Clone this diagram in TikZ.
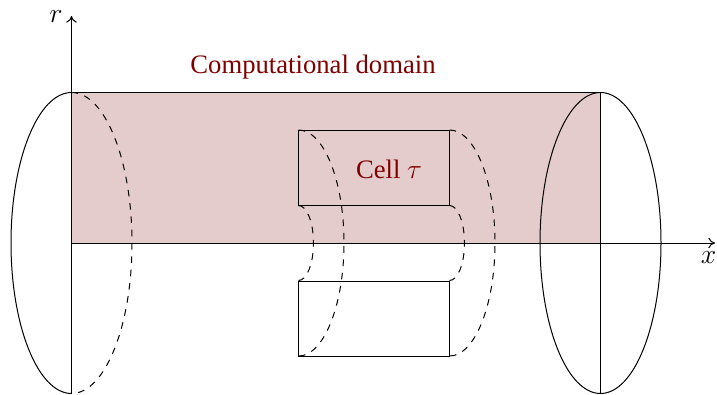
\documentclass[tikz,border=0pt]{standalone}
\usepackage{fontspec}
\usetikzlibrary{arrows.meta}
\setmainfont{Liberation Serif}
\definecolor{domainred}{HTML}{800000}
\tikzset{
  solidline/.style={line width=0.75pt,black},
  dashline/.style={line width=0.75pt,black,dash pattern=on 5pt off 5pt},
  axisline/.style={line width=0.75pt,black,-{Computer Modern Rightarrow[length=5pt,width=8pt]}},
  redlabel/.style={text=domainred,font=\fontsize{20}{24}\selectfont,inner sep=0pt},
  axislabel/.style={text=black,font=\fontsize{20}{24}\selectfont,inner sep=0pt}
}
\begin{document}
\begin{tikzpicture}[x=0.75pt,y=0.75pt]
\useasboundingbox (0,0) rectangle (717,394);
% key points (y measured up from the lower edge)
\coordinate (O) at (71.5,151);
\coordinate (LT) at (71.5,301.5);
\coordinate (LB) at (71.5,0.5);
\coordinate (RT) at (600.5,301.5);
\coordinate (RB) at (600.5,0.5);
\coordinate (RM) at (600.5,151);
\coordinate (XEnd) at (715,151);
\coordinate (REnd) at (71.5,378);
\coordinate (C1) at (298.5,264);
\coordinate (C2) at (449.5,188.5);
\coordinate (C3) at (298.5,113);
\coordinate (C4) at (449.5,38);
\coordinate (C1b) at (298.5,188.5);
\coordinate (C2t) at (449.5,264);
% shaded domain
\fill[domainred!20!white] (O) rectangle (RT);
\draw[solidline] (LT) -- (RT);
% left disc
\draw[solidline] (LT) arc[start angle=90,end angle=270,x radius=60.5,y radius=150.5];
\draw[dashline] (LT) arc[start angle=90,end angle=-90,x radius=60.5,y radius=150.5];
% right disc
\draw[solidline] (RM) ellipse[x radius=60.5,y radius=150.5];
\draw[solidline] (RT) -- (RB);
% cell sections
\draw[solidline] (C1) rectangle (C2);
\draw[solidline] (C3) rectangle (C4);
\draw[dashline] (C1) arc[start angle=90,end angle=-90,x radius=45.5,y radius=113];
\draw[dashline] (C2t) arc[start angle=90,end angle=-90,x radius=45.5,y radius=113];
\draw[dashline] (C1b) arc[start angle=90,end angle=-90,x radius=15,y radius=37.5];
\draw[dashline] (C2) arc[start angle=90,end angle=-90,x radius=15,y radius=37.5];
% axes
\draw[axisline] (LB) -- (REnd);
\draw[axisline] (O) -- (XEnd);
% labels
\node[axislabel] (rlabel) at (56,377) {$r$};
\node[axislabel] (xlabel) at (708.5,136) {$x$};
\node[redlabel] (domain) at (313,327) {Computational domain};
\node[redlabel] (cell) at (389,225) {Cell $\tau$};
\end{tikzpicture}
\end{document}
